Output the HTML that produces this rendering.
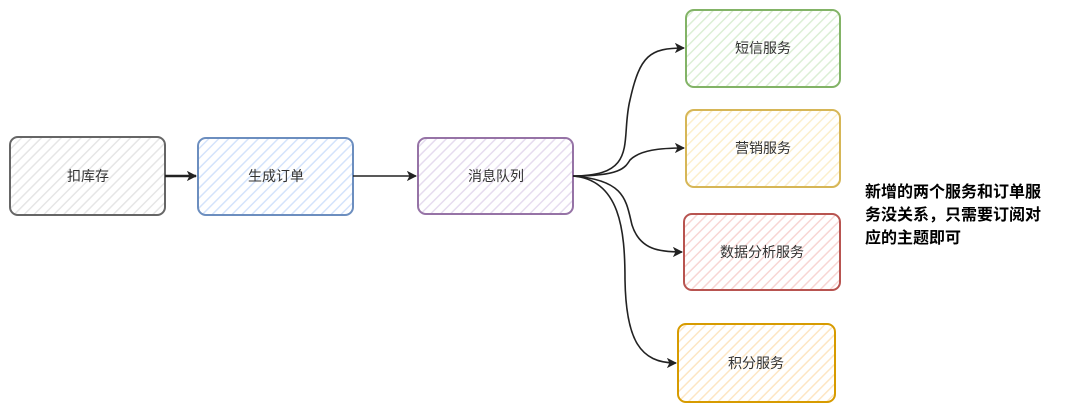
<!DOCTYPE html>
<html><head><meta charset="utf-8"><style>
html,body{margin:0;padding:0;background:#fff;width:1070px;height:409px;overflow:hidden}
svg text{font-family:"Liberation Sans","Noto Sans CJK SC",sans-serif;font-size:13px;fill:#333}
</style></head><body>
<svg width="1070" height="409" viewBox="0 0 1070 409" xmlns="http://www.w3.org/2000/svg">
<defs>
<pattern id="hg" width="7" height="7" patternUnits="userSpaceOnUse" patternTransform="rotate(45)"><rect width="7" height="7" fill="#fff"/><line x1="0" y1="0" x2="0" y2="7" stroke="#e6e6e6" stroke-width="3"/></pattern>
<pattern id="hb" width="7" height="7" patternUnits="userSpaceOnUse" patternTransform="rotate(45)"><rect width="7" height="7" fill="#fff"/><line x1="0" y1="0" x2="0" y2="7" stroke="#d4e3fb" stroke-width="3"/></pattern>
<pattern id="hp" width="7" height="7" patternUnits="userSpaceOnUse" patternTransform="rotate(45)"><rect width="7" height="7" fill="#fff"/><line x1="0" y1="0" x2="0" y2="7" stroke="#e6dcef" stroke-width="3"/></pattern>
<pattern id="hgr" width="7" height="7" patternUnits="userSpaceOnUse" patternTransform="rotate(45)"><rect width="7" height="7" fill="#fff"/><line x1="0" y1="0" x2="0" y2="7" stroke="#dcefd6" stroke-width="3"/></pattern>
<pattern id="hy" width="7" height="7" patternUnits="userSpaceOnUse" patternTransform="rotate(45)"><rect width="7" height="7" fill="#fff"/><line x1="0" y1="0" x2="0" y2="7" stroke="#fcefcc" stroke-width="3"/></pattern>
<pattern id="hr" width="7" height="7" patternUnits="userSpaceOnUse" patternTransform="rotate(45)"><rect width="7" height="7" fill="#fff"/><line x1="0" y1="0" x2="0" y2="7" stroke="#f8d6d4" stroke-width="3"/></pattern>
<pattern id="ho" width="7" height="7" patternUnits="userSpaceOnUse" patternTransform="rotate(45)"><rect width="7" height="7" fill="#fff"/><line x1="0" y1="0" x2="0" y2="7" stroke="#fde6c4" stroke-width="3"/></pattern>
<marker id="a" markerWidth="10" markerHeight="10" refX="9" refY="5" orient="auto" markerUnits="userSpaceOnUse"><path d="M1,1 L9,5 L1,9 L3,5 Z" fill="#222" stroke="#222"/></marker>
</defs>
<g stroke-width="2">
<rect x="10" y="137" width="155" height="78" rx="8" fill="url(#hg)" stroke="#666"/>
<rect x="198" y="138" width="155" height="77" rx="8" fill="url(#hb)" stroke="#6c8ebf"/>
<rect x="418" y="138" width="155" height="76" rx="8" fill="url(#hp)" stroke="#9673a6"/>
<rect x="686" y="10" width="154" height="77" rx="8" fill="url(#hgr)" stroke="#82b366"/>
<rect x="686" y="110" width="154" height="77" rx="8" fill="url(#hy)" stroke="#d6b656"/>
<rect x="684" y="214" width="156" height="76" rx="8" fill="url(#hr)" stroke="#b85450"/>
<rect x="678" y="324" width="157" height="78" rx="8" fill="url(#ho)" stroke="#d79b00"/>
</g>
<g fill="none" stroke="#222" stroke-width="1.6">
<path d="M165,176 L196,176" marker-end="url(#a)" stroke-width="2.5"/>
<path d="M353,176 L416,176" marker-end="url(#a)"/>
<path d="M573,176 C640,176 620,140 630,100 C640,55 650,48 684,48" marker-end="url(#a)"/>
<path d="M573,176 C620,176 625,168 630,160 C640,150 660,148 684,148" marker-end="url(#a)"/>
<path d="M573,176 C625,180 626,200 632,225 C640,250 660,252 682,252" marker-end="url(#a)"/>
<path d="M573,176 C620,180 625,230 625,280 C626,340 640,363 676,363" marker-end="url(#a)"/>
</g>
<g text-anchor="middle" style="font-size:14px">
<text x="88" y="181" style="font-size:14px">扣库存</text>
<text x="276" y="181" style="font-size:14px">生成订单</text>
<text x="496" y="181" style="font-size:14px">消息队列</text>
<text x="763" y="53" style="font-size:14px">短信服务</text>
<text x="763" y="153" style="font-size:14px">营销服务</text>
<text x="762" y="257" style="font-size:14px">数据分析服务</text>
<text x="756" y="368" style="font-size:14px">积分服务</text>
</g>
<g>
<text x="865" y="197" style="fill:#000;font-size:16px;font-weight:bold">新增的两个服务和订单服</text>
<text x="865" y="220" style="fill:#000;font-size:16px;font-weight:bold">务没关系，只需要订阅对</text>
<text x="865" y="243" style="fill:#000;font-size:16px;font-weight:bold">应的主题即可</text>
</g>
</svg>
</body></html>
